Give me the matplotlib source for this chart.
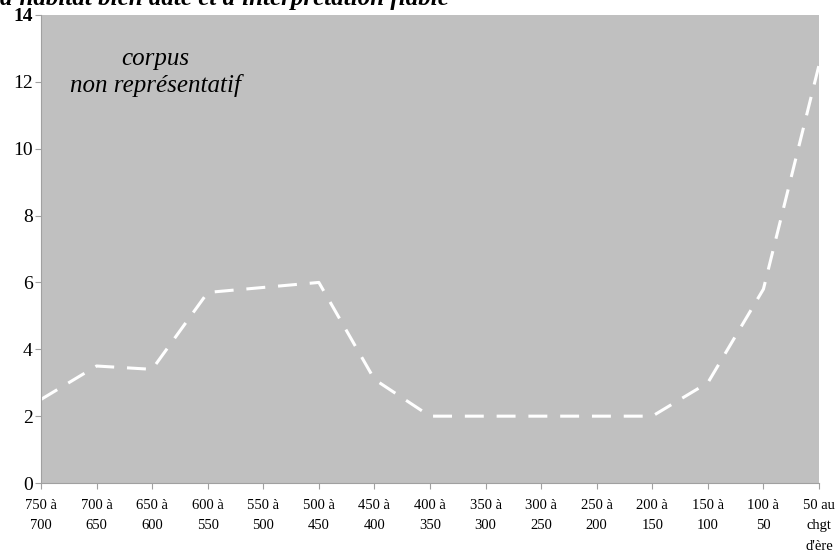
import matplotlib

matplotlib.use("Agg")
import matplotlib.pyplot as plt
import numpy as np

# périodes (av. J.-C.) et valeurs
PERIODS = [
    "750 à\n700", "700 à\n650", "650 à\n600", "600 à\n550", "550 à\n500",
    "500 à\n450", "450 à\n400", "400 à\n350", "350 à\n300", "300 à\n250",
    "250 à\n200", "200 à\n150", "150 à\n100", "100 à\n50", "50 au\nchgt\nd'ère",
]
VALUES = [2.5, 3.5, 3.4, 5.7, 5.85, 6.0, 3.1, 2.0, 2.0, 2.0, 2.0, 2.0, 3.0, 5.8, 12.5]
Y_TICKS = [0, 2, 4, 6, 8, 10, 12, 14]

SERIF = ["Liberation Serif", "DejaVu Serif"]
BG = "#c0c0c0"

fig = plt.figure(figsize=(8.4, 5.55), dpi=100)
ax = fig.add_axes([0.0488, 0.1297, 0.9262, 0.8433])
ax.set_facecolor(BG)

x = np.arange(len(PERIODS))
ax.plot(x, VALUES, color="white", linewidth=2.2, dashes=(6.2, 4.2), solid_capstyle="butt")

ax.set_xlim(0, len(PERIODS) - 1)
ax.set_ylim(0, 14)
ax.set_yticks(Y_TICKS)
ax.set_yticklabels([str(v) for v in Y_TICKS], family=SERIF, fontsize=14)
ax.get_yticklabels()[-1].set_fontweight("bold")
ax.set_xticks(x)
ax.set_xticklabels(PERIODS, family=SERIF, fontsize=10.5, linespacing=1.75, va="top")
ax.tick_params(axis="both", colors="#a0a0a0", length=4.5, width=0.8, labelcolor="black")
ax.tick_params(axis="x", pad=7)
ax.tick_params(axis="y", pad=1.5)

for spine in ("top", "right"):
    ax.spines[spine].set_visible(False)
for spine in ("left", "bottom"):
    ax.spines[spine].set_color("#a0a0a0")
    ax.spines[spine].set_linewidth(0.8)

ax.text(0.147, 0.93, "corpus\nnon représentatif", transform=ax.transAxes,
        ha="center", va="top", family=SERIF, style="italic", fontsize=18,
        linespacing=1.25)

# titre tronqué en haut de l'image
fig.text(0.0, 0.991, "d'habitat bien daté et d'interprétation fiable",
         ha="left", va="baseline", family=SERIF, style="italic", weight="bold",
         fontsize=18)

fig.savefig("out.png", dpi=100)
